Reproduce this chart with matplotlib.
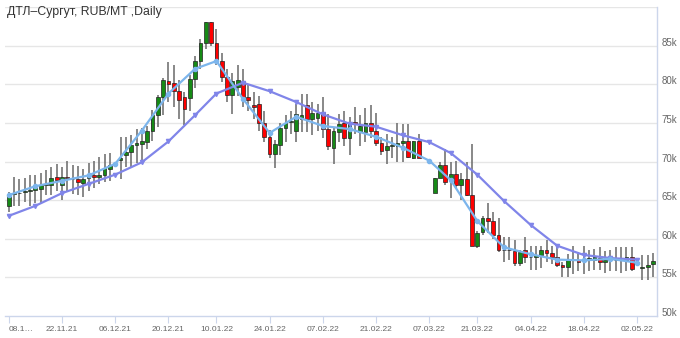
import numpy as np
import pandas as pd
import matplotlib
matplotlib.use('Agg')
import matplotlib.pyplot as plt
from matplotlib.patches import Rectangle
from matplotlib.transforms import offset_copy

# trading calendar (weekdays without the exchange holidays)
all_days = pd.bdate_range('2021-11-08', '2022-05-05')
holidays = pd.to_datetime(['2021-12-31', '2022-01-03', '2022-01-04', '2022-01-05',
                           '2022-01-06', '2022-01-07', '2022-03-08'])
days = all_days[~all_days.isin(holidays)]

# daily candles, thousand RUB/MT (None = no trade that day)
opens = [64.3, 65.8, 65.9, 66.0, 66.2, 66.3, 66.4, 67.0, 67.0, 68.0,
         67.0, 68.0, 67.7, 67.7, 67.2, 67.8, 68.3, 68.0, 68.3, 69.0,
         None, 70.2, 70.8, 71.2, 72.1, 72.3, 72.5, 74.0, 76.0, 78.4,
         80.4, 80.1, 79.1, 78.4, 78.2, 80.7, 83.0, 85.4, 88.0, 85.3,
         83.0, 81.0, 78.6, 79.7, 80.4, 78.3, 77.3, 77.4, 75.0, 73.2,
         71.0, 72.1, 74.3, 75.1, 74.0, 75.5, 77.3, 75.5, 75.6, 76.4,
         74.2, 71.8, 73.8, 75.0, 73.0, 75.1, 73.8, 73.8, 75.0, 74.0,
         72.4, 71.5, 72.0, 72.0, 72.4, 72.7, 70.5, 72.6, None, None,
         65.9, 67.9, 69.5, 67.7, 68.4, 67.0, 67.7, 65.7, 59.0, 60.9,
         62.7, 62.3, 60.5, 58.6, 58.5, 58.4, 56.9, 58.5, 57.6, 57.6,
         57.9, 58.5, 58.1, 57.7, 56.6, 56.4, 57.2, 57.3, 57.2, 57.2,
         57.2, 57.5, 57.0, 57.2, 57.2, 57.2, 57.3, 57.6, None, 56.2,
         56.3, 56.7]
highs = [66.0, 68.0, 67.7, 67.9, 68.3, 68.2, 68.5, 68.9, 69.3, 69.7,
         69.3, 70.1, 69.5, 69.4, 69.0, 69.8, 70.1, 70.6, 71.0, 71.1,
         None, 73.2, 73.2, 73.4, 74.2, 74.4, 74.6, 76.7, 78.6, 80.8,
         82.9, 82.5, 80.5, 79.0, 81.2, 83.6, 85.8, 88.0, 88.0, 87.2,
         84.0, 82.0, 81.4, 82.5, 82.0, 80.0, 79.0, 78.5, 76.5, 74.1,
         72.8, 75.0, 76.0, 76.5, 77.5, 78.7, 78.7, 77.7, 77.5, 78.4,
         76.1, 74.5, 76.1, 76.5, 75.8, 77.1, 76.0, 76.9, 77.3, 76.3,
         73.2, 73.5, 73.2, 75.0, 74.9, 74.9, 72.6, 73.5, None, None,
         67.9, 69.9, 71.6, 69.9, 70.1, 68.5, 69.9, 72.3, 61.0, 63.0,
         64.6, 63.4, 62.7, 60.2, 60.2, 59.9, 58.5, 60.2, 59.1, 59.1,
         59.0, 59.8, 59.1, 59.0, 57.0, 58.0, 59.1, 58.3, 59.1, 58.6,
         58.7, 58.9, 58.4, 58.6, 58.9, 58.9, 58.9, 58.9, None, 57.9,
         57.9, 58.2]
lows = [63.4, 64.3, 64.2, 64.8, 64.3, 64.6, 64.6, 65.6, 65.6, 66.2,
        65.0, 66.0, 65.8, 65.6, 65.4, 66.2, 66.6, 67.1, 67.3, 67.5,
        None, 67.7, 69.3, 69.3, 69.8, 70.0, 71.6, 72.7, 74.5, 76.0,
        77.7, 77.0, 75.5, 74.7, 76.5, 79.5, 82.0, 84.5, 85.0, 82.5,
        80.3, 77.7, 76.2, 78.5, 77.0, 76.5, 75.5, 74.0, 72.5, 70.5,
        69.1, 70.8, 72.5, 73.5, 72.5, 73.8, 73.8, 73.4, 74.0, 73.0,
        71.5, 69.7, 72.5, 72.0, 70.8, 73.5, 72.0, 72.5, 73.0, 72.0,
        70.9, 69.7, 70.5, 70.0, 70.0, 70.5, 70.3, 70.4, None, None,
        65.9, 67.9, 67.0, 65.3, 66.5, 65.0, 65.5, 59.0, 58.8, 60.5,
        60.7, 60.0, 58.3, 57.0, 57.2, 56.5, 56.5, 56.8, 55.9, 55.9,
        56.2, 57.0, 56.7, 56.3, 55.0, 55.0, 55.4, 55.8, 55.4, 55.8,
        56.0, 55.9, 55.6, 55.8, 55.8, 55.6, 55.8, 55.8, None, 54.7,
        54.7, 55.0]
closes = [65.6, 65.9, 65.9, 66.2, 66.3, 66.6, 67.0, 67.1, 67.9, 67.6,
          68.0, 67.8, 67.7, 67.3, 67.7, 68.0, 68.0, 68.3, 69.1, 69.6,
          None, 70.5, 71.2, 72.1, 72.4, 72.6, 74.0, 76.0, 78.4, 80.5,
          80.0, 79.1, 77.9, 76.8, 80.7, 83.0, 85.4, 88.0, 85.3, 83.1,
          81.0, 78.6, 80.4, 80.5, 78.4, 77.9, 77.0, 75.0, 73.2, 71.0,
          72.3, 74.3, 75.0, 75.1, 76.1, 76.0, 75.5, 76.3, 76.3, 74.2,
          72.0, 74.0, 74.9, 73.0, 75.1, 74.9, 74.6, 75.0, 74.0, 72.4,
          71.4, 72.0, 72.0, 72.4, 72.7, 70.6, 72.6, 70.4, None, None,
          67.9, 69.5, 67.4, 68.4, 66.9, 67.7, 65.7, 59.0, 60.8, 62.7,
          62.3, 60.5, 58.6, 58.5, 58.5, 56.9, 58.3, 57.6, 57.6, 57.9,
          58.5, 58.1, 57.7, 56.6, 56.3, 57.2, 57.2, 57.0, 57.2, 57.5,
          57.6, 57.0, 57.3, 57.2, 57.2, 57.2, 57.6, 56.1, None, 56.2,
          56.6, 57.1]

# weekly averages (plotted on Mondays)
week_dates = ['2021-11-08', '2021-11-15', '2021-11-22', '2021-11-29', '2021-12-06',
              '2021-12-13', '2021-12-20', '2021-12-27', '2022-01-10', '2022-01-17',
              '2022-01-24', '2022-01-31', '2022-02-07', '2022-02-14', '2022-02-21',
              '2022-02-28', '2022-03-07', '2022-03-14', '2022-03-21', '2022-03-28',
              '2022-04-04', '2022-04-11', '2022-04-18', '2022-04-25', '2022-05-02']
ma_fast = [65.65, 66.8, 67.5, 68.2, 69.7, 74.0, 78.8, 82.0, 83.0, 78.1,
           73.7, 75.8, 74.6, 74.2, 73.2, 71.8, 70.1, 67.6, 62.3, 58.9,
           58.0, 57.3, 57.2, 57.4, 56.9]
ma_slow = [62.96, 64.26, 65.9, 67.1, 68.3, 69.9, 72.6, 76.0, 78.8, 80.2,
           79.1, 77.7, 76.1, 74.9, 74.5, 73.4, 72.5, 71.1, 68.3, 64.9,
           61.8, 59.1, 57.9, 57.5, 57.3]

tick_dates = ['2021-11-08', '2021-11-22', '2021-12-06', '2021-12-20', '2022-01-10',
              '2022-01-24', '2022-02-07', '2022-02-21', '2022-03-07', '2022-03-21',
              '2022-04-04', '2022-04-18', '2022-05-02']
tick_labels = ['08.1…', '22.11.21', '06.12.21', '20.12.21', '10.01.22', '24.01.22',
               '07.02.22', '21.02.22', '07.03.22', '21.03.22', '04.04.22', '18.04.22',
               '02.05.22']

pos = {d: i for i, d in enumerate(days)}

fig = plt.figure(figsize=(6.8, 3.38), dpi=100)
ax = fig.add_axes([5 / 680, 1 - 316 / 338, 652 / 680, 309 / 338])

up_col, down_col = '#168a16', '#ff0000'
w = 0.7
for i in range(len(days)):
    o, h, l, c = opens[i], highs[i], lows[i], closes[i]
    if o is None:
        continue
    ax.plot([i, i], [l, h], color='#6e6e6e', lw=1.15, zorder=2, solid_capstyle='butt')
    bot, top = min(o, c), max(o, c)
    ax.add_patch(Rectangle((i - w / 2, bot), w, max(top - bot, 0.08),
                           facecolor=up_col if c >= o else down_col,
                           edgecolor='#222222', lw=0.5, zorder=3))

wx = [pos[pd.Timestamp(d)] for d in week_dates]
ax.plot(wx, ma_slow, color='#8085e9', lw=1.6, marker='v', ms=3, zorder=4)
ax.plot(wx, ma_fast, color='#7cb5ec', lw=1.6, marker='o', ms=3, zorder=5)

ax.set_xlim(-0.7, 121.75)
ax.set_ylim(50, 90)

for v in np.arange(55, 91, 5):
    ax.axhline(v, color='#e6e6e6', lw=1, zorder=0)
ax.set_yticks(np.arange(50, 90, 5))
ax.set_yticklabels([f'{v}k' for v in range(50, 90, 5)])
ax.yaxis.tick_right()
ax.tick_params(axis='y', length=0, pad=3, labelsize=7, labelcolor='#666666')
for lab in ax.get_yticklabels():
    lab.set_fontfamily('Liberation Sans')
    lab.set_transform(offset_copy(lab.get_transform(), fig=fig, y=4, units='dots'))

xt = [pos[pd.Timestamp(d)] for d in tick_dates]
ax.set_xticks(xt)
ax.set_xticklabels(tick_labels)
ax.tick_params(axis='x', length=5, color='#ccd6eb', pad=2, labelsize=6, labelcolor='#666666')
for lab in ax.get_xticklabels():
    lab.set_fontfamily('Liberation Sans')
ax.get_xticklabels()[0].set_horizontalalignment('left')

for s in ['top', 'left']:
    ax.spines[s].set_visible(False)
for s in ['bottom', 'right']:
    ax.spines[s].set_color('#ccd6eb')
    ax.spines[s].set_linewidth(1)

fig.text(7 / 680, 1 - 12 / 338, 'ДТЛ–Сургут, RUB/MT ,Daily', fontsize=8.8,
         family='Liberation Sans', color='#333333', va='center', ha='left')

fig.savefig('out.png', dpi=100)
